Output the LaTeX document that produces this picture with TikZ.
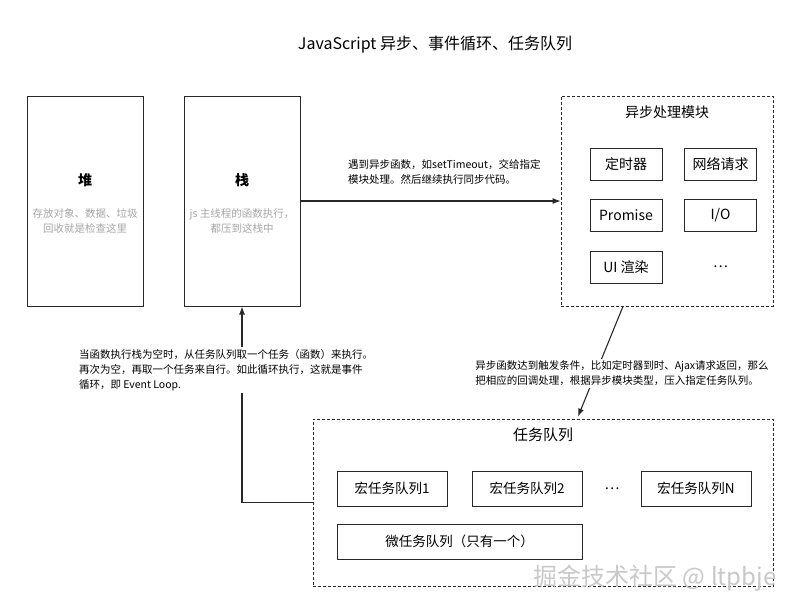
\documentclass[tikz,border=0pt]{standalone}
\usepackage{fontspec}
\setmainfont{Noto Sans CJK SC}
\usepackage{xcolor}
\usepackage{tikz}
\usetikzlibrary{arrows.meta,positioning,calc}
\definecolor{linegray}{RGB}{40,40,40}
\definecolor{softgray}{RGB}{165,165,165}
\definecolor{markgray}{RGB}{200,200,200}
\tikzset{
  memorybox/.style={draw=linegray, line width=1pt, minimum width=116pt, minimum height=210pt},
  groupbox/.style={draw=linegray, line width=0.8pt, dash pattern=on 3pt off 2pt},
  itembox/.style={draw=linegray, line width=1pt, minimum width=72pt, minimum height=32pt,
    inner sep=0pt, font=\fontsize{14}{16}\selectfont},
  queuebox/.style={draw=linegray, line width=1pt, minimum width=110pt, minimum height=35pt,
    inner sep=0pt, font=\fontsize{13.5}{16}\selectfont},
  boxtitle/.style={font=\fontsize{14}{16}\selectfont},
  hint/.style={text=softgray, align=center, font=\fontsize{10.5}{15}\selectfont},
  note/.style={align=left, fill=white, inner sep=2pt, font=\fontsize{10.5}{15}\selectfont},
  flow/.style={-{Latex[length=8pt,width=6pt]}, line width=1.1pt, draw=linegray}
}
\begin{document}
\begin{tikzpicture}[x=1pt, y=-1pt]
\useasboundingbox (0,0) rectangle (800,613);

\node[font=\fontsize{16}{18}\selectfont] (title) at (435,45) {JavaScript 异步、事件循环、任务队列};

% heap and stack
\node[memorybox] (heap) at (85,201) {};
\node[font=\fontsize{14}{16}\selectfont\bfseries] (heaptitle) at (85,180) {堆};
\node[hint] (heaphint) at (85,220.5) {存放对象、数据、垃圾\\回收就是检查这里};

\node[memorybox] (stack) at (242,201) {};
\node[font=\fontsize{14}{16}\selectfont\bfseries] (stacktitle) at (242,180) {栈};
\node[hint] (stackhint) at (242,220.5) {js 主线程的函数执行，\\都压到这栈中};

% async modules
\node[groupbox, minimum width=212pt, minimum height=210pt] (async) at (667,201) {};
\node[boxtitle] (asynctitle) at (667,112) {异步处理模块};
\node[itembox] (timer) at (626,164) {定时器};
\node[itembox] (net) at (720.5,164) {网络请求};
\node[itembox] (promise) at (626,215) {Promise};
\node[itembox] (io) at (720.5,215) {I/O};
\node[itembox] (ui) at (626,267) {UI 渲染};
\node[font=\fontsize{14}{16}\selectfont] (moremods) at (720.5,267) {\dots};

% task queues
\node[groupbox, minimum width=460pt, minimum height=167pt] (tq) at (543,502.5) {};
\node[font=\fontsize{15}{17}\selectfont] (tqtitle) at (543,435) {任务队列};
\node[queuebox] (mq1) at (392,488.5) {宏任务队列1};
\node[queuebox] (mq2) at (527,488.5) {宏任务队列2};
\node[font=\fontsize{14}{16}\selectfont] (moreq) at (612,488.5) {\dots};
\node[queuebox] (mqn) at (696,488.5) {宏任务队列N};
\node[queuebox, minimum width=245pt] (micro) at (459.5,541.5) {微任务队列（只有一个）};

% connectors
\draw[flow] (stack.east) -- (async.west);
\node[note, fill=none, anchor=west] (calllabel) at (346,171.5) {遇到异步函数，如setTimeout，交给指定\\模块处理。然后继续执行同步代码。};

\coordinate (asyncout) at ($(async.south)+(-44,0)$);
\coordinate (tqin) at ($(tq.north)+(35,-2)$);
\draw[flow] (asyncout) -- (tqin);
\node[note] (pushlabel) at (622,373.5) {异步函数达到触发条件，比如定时器到时、Ajax请求返回，那么\\把相应的回调处理，根据异步模块类型，压入指定任务队列。};

\draw[flow] (tq.west) -| (stack.south);
\node[note] (looplabel) at (226,370) {当函数执行栈为空时，从任务队列取一个任务（函数）来执行。\\再次为空，再取一个任务来自行。如此循环执行，这就是事件\\循环，即 Event Loop.};

\node[text=markgray, font=\fontsize{24}{26}\selectfont] (mark) at (655,578) {掘金技术社区 @ ltpbje};
\end{tikzpicture}
\end{document}
